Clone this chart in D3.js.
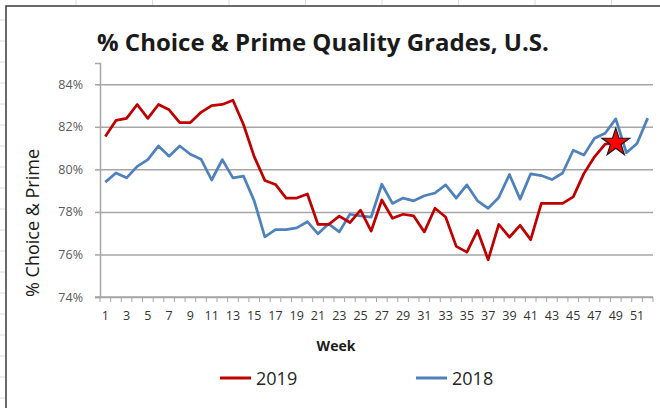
<!DOCTYPE html>
<html>
<head>
<meta charset="utf-8">
<script src="https://cdn.jsdelivr.net/npm/d3@7"></script>
<style>
  body { margin: 0; background: #fff; }
  svg { display: block; font-family: "Open Sans", sans-serif; }
</style>
</head>
<body>
<div id="vis"></div>
<script>
const FRAME_WIDTH = 660;
const FRAME_HEIGHT = 408;
const MARGINS = {left: 100, right: 7, top: 63, bottom: 111};
const VIS_WIDTH = FRAME_WIDTH - MARGINS.left - MARGINS.right;
const VIS_HEIGHT = FRAME_HEIGHT - MARGINS.top - MARGINS.bottom;

// categories
const weeks = d3.range(1, 53);
const weekLabels = weeks.filter((w) => w % 2 === 1);
const yTicks = [74, 76, 78, 80, 82, 84];

// % choice & prime
const pct2019 = [81.54, 82.3, 82.4, 83.05, 82.4, 83.05, 82.8, 82.2, 82.2, 82.68,
                 83.0, 83.05, 83.25, 82.1, 80.6, 79.48, 79.29, 78.65, 78.65, 78.84,
                 77.41, 77.41, 77.8, 77.5, 78.08, 77.1, 78.56, 77.7, 77.89, 77.81,
                 77.06, 78.17, 77.76, 76.38, 76.11, 77.13, 75.75, 77.41, 76.81, 77.37,
                 76.7, 78.4, 78.4, 78.4, 78.71, 79.8, 80.59, 81.19, 81.25];
const pct2018 = [79.4, 79.83, 79.6, 80.14, 80.46, 81.1, 80.62, 81.1, 80.71, 80.48,
                 79.5, 80.46, 79.6, 79.68, 78.52, 76.83, 77.17, 77.17, 77.25, 77.54,
                 76.97, 77.44, 77.06, 77.89, 77.81, 77.76, 79.3, 78.4, 78.65, 78.52,
                 78.76, 78.89, 79.27, 78.65, 79.27, 78.52, 78.17, 78.68, 79.76, 78.6,
                 79.79, 79.71, 79.52, 79.83, 80.9, 80.67, 81.46, 81.7, 82.37, 80.78,
                 81.22, 82.41];

const series = [
  {name: "2018", values: pct2018, color: "#4F81BD"},
  {name: "2019", values: pct2019, color: "#C00000"}
];

const FRAME = d3.select("#vis")
  .append("svg")
  .attr("width", FRAME_WIDTH)
  .attr("height", FRAME_HEIGHT);

// outer chart border + faint ruler marks
FRAME.append("rect")
  .attr("x", 6).attr("y", 6)
  .attr("width", 700).attr("height", 500)
  .attr("fill", "none")
  .attr("stroke", "#3a3a3a")
  .attr("stroke-width", 1.5);

FRAME.selectAll(".rulerTop")
  .data(d3.range(76, 660, 76.5))
  .enter().append("line")
  .attr("x1", (d) => d).attr("x2", (d) => d)
  .attr("y1", 0).attr("y2", 5)
  .attr("stroke", "#dcdcdc");

FRAME.selectAll(".rulerLeft")
  .data(d3.range(20, 408, 21))
  .enter().append("line")
  .attr("x1", 0).attr("x2", 5)
  .attr("y1", (d) => d).attr("y2", (d) => d)
  .attr("stroke", "#dcdcdc");

const X_SCALE = d3.scaleBand()
  .domain(weeks)
  .range([MARGINS.left, MARGINS.left + VIS_WIDTH]);

const Y_SCALE = d3.scaleLinear()
  .domain([74, 85])
  .range([MARGINS.top + VIS_HEIGHT, MARGINS.top]);

const xc = (w) => X_SCALE(w) + X_SCALE.bandwidth() / 2;

// gridlines
FRAME.append("g")
  .attr("transform", "translate(" + MARGINS.left + ",0)")
  .call(d3.axisLeft(Y_SCALE).tickValues(yTicks).tickSize(-VIS_WIDTH).tickFormat(""))
  .call((g) => g.select(".domain").remove())
  .call((g) => g.selectAll("line").attr("stroke", "#a6a6a6").attr("stroke-width", 1.5));

// y axis
FRAME.append("g")
  .attr("transform", "translate(" + MARGINS.left + ",0)")
  .call(d3.axisLeft(Y_SCALE).tickValues(yTicks).tickSize(5).tickPadding(12)
        .tickFormat((d) => d + "%"))
  .call((g) => g.select(".domain").attr("stroke", "#a6a6a6").attr("stroke-width", 1.5))
  .call((g) => g.selectAll("line").attr("stroke", "#a6a6a6").attr("stroke-width", 1.5))
  .call((g) => g.selectAll("text").attr("fill", "#595959")
        .attr("font-size", "12.5px").attr("font-family", "Open Sans"));

// x axis: line, ticks between categories, labels on odd weeks
const baseY = MARGINS.top + VIS_HEIGHT;
FRAME.append("line")
  .attr("x1", MARGINS.left - 5).attr("x2", MARGINS.left + VIS_WIDTH)
  .attr("y1", baseY).attr("y2", baseY)
  .attr("stroke", "#a6a6a6").attr("stroke-width", 1.5);

FRAME.selectAll(".xtick")
  .data(weeks.concat([null]))
  .enter().append("line")
  .attr("x1", (d) => d === null ? MARGINS.left + VIS_WIDTH : X_SCALE(d))
  .attr("x2", (d) => d === null ? MARGINS.left + VIS_WIDTH : X_SCALE(d))
  .attr("y1", baseY).attr("y2", baseY + 5)
  .attr("stroke", "#a6a6a6");

FRAME.append("g")
  .attr("transform", "translate(0," + baseY + ")")
  .call(d3.axisBottom(X_SCALE).tickValues(weekLabels).tickSize(0).tickPadding(14))
  .call((g) => g.select(".domain").remove())
  .call((g) => g.selectAll("text").attr("fill", "#333333")
        .attr("font-size", "12.5px").attr("font-family", "Open Sans"));

// lines
const line = d3.line()
  .x((d, i) => xc(weeks[i]))
  .y((d) => Y_SCALE(d));

FRAME.selectAll(".series")
  .data(series)
  .enter().append("path")
  .attr("d", (d) => line(d.values))
  .attr("fill", "none")
  .attr("stroke", (d) => d.color)
  .attr("stroke-width", 2.75)
  .attr("stroke-linejoin", "round");

// star on latest 2019 week
const lastIdx = pct2019.length - 1;
FRAME.append("path")
  .attr("d", d3.symbol().type(d3.symbolStar).size(240)())
  .attr("transform", "translate(" + xc(weeks[lastIdx]) + "," + Y_SCALE(pct2019[lastIdx]) + ")")
  .attr("fill", "#FF0000")
  .attr("stroke", "#1a1a1a")
  .attr("stroke-width", 1.2);

// title
FRAME.append("text")
  .attr("x", 97).attr("y", 51)
  .attr("font-size", "24px")
  .attr("font-weight", "bold")
  .attr("fill", "#1a1a1a")
  .text("% Choice & Prime Quality Grades, U.S.");

// axis titles
FRAME.append("text")
  .attr("transform", "translate(39,223) rotate(-90)")
  .attr("text-anchor", "middle")
  .attr("font-size", "18px")
  .attr("fill", "#1a1a1a")
  .text("% Choice & Prime");

FRAME.append("text")
  .attr("x", 336).attr("y", 351)
  .attr("text-anchor", "middle")
  .attr("font-size", "14px")
  .attr("font-weight", "bold")
  .attr("fill", "#1a1a1a")
  .text("Week");

// legend
const legendItems = [
  {name: "2019", color: "#C00000", x: 220},
  {name: "2018", color: "#4F81BD", x: 416}
];
const legend = FRAME.selectAll(".legend")
  .data(legendItems)
  .enter().append("g")
  .attr("transform", (d) => "translate(" + d.x + ",378)");

legend.append("line")
  .attr("x1", 0).attr("x2", 31)
  .attr("stroke", (d) => d.color)
  .attr("stroke-width", 3);

legend.append("text")
  .attr("x", 36).attr("y", 6.5)
  .attr("font-size", "18px")
  .attr("fill", "#262626")
  .text((d) => d.name);
</script>
</body>
</html>
